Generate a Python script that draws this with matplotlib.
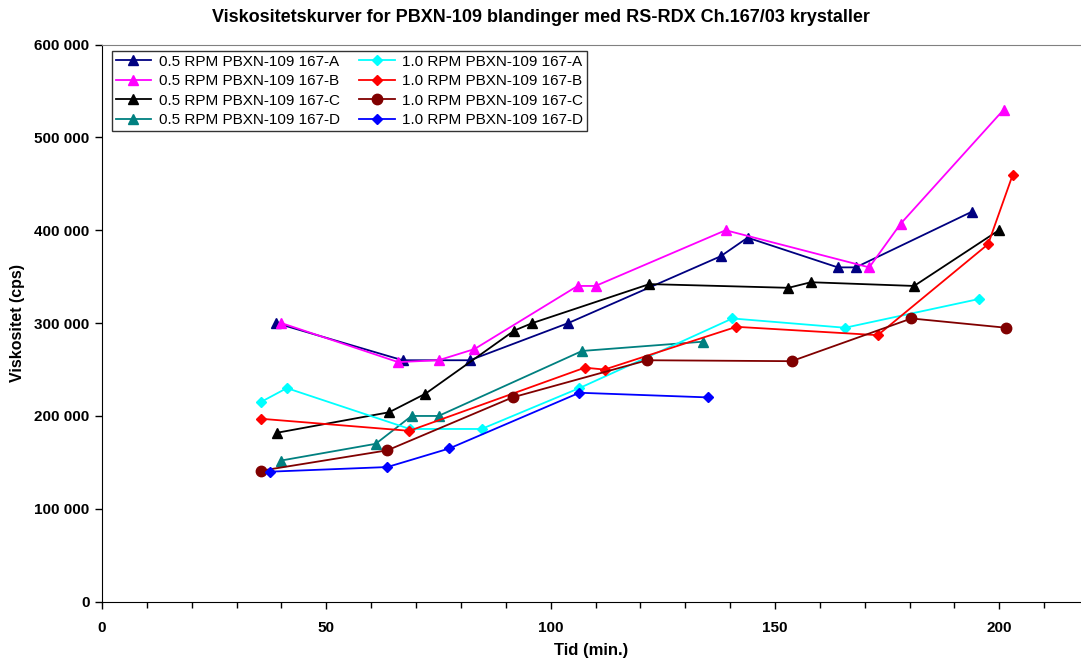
import matplotlib
matplotlib.use("Agg")
import matplotlib.pyplot as plt
from matplotlib.ticker import MultipleLocator, FuncFormatter

plt.rcParams['font.family'] = ['Liberation Sans', 'DejaVu Sans']

# Data (time in min, viscosity in cps)
a05_x = [38.8, 67.0, 82.0, 103.9, 137.9, 143.9, 164.0, 168.0, 193.9]
a05_y = [300000, 260000, 260000, 300000, 372000, 392000, 360000, 360000, 420000]
b05_x = [40.0, 66.0, 75.0, 83.0, 106.0, 110.0, 139.0, 171.0, 178.0, 201.0]
b05_y = [300000, 258000, 260000, 272000, 340000, 340000, 400000, 360000, 407000, 530000]
c05_x = [39.1, 64.0, 72.1, 91.9, 95.9, 122.0, 153.0, 158.0, 181.0, 199.9]
c05_y = [182000, 204000, 224000, 292000, 300000, 342000, 338000, 344000, 340000, 400000]
d05_x = [39.9, 61.0, 69.0, 75.0, 107.0, 134.0]
d05_y = [152000, 170000, 200000, 200000, 270000, 280000]

a10_x = [35.4, 41.2, 68.6, 84.6, 106.4, 140.5, 165.6, 195.5]
a10_y = [215000, 230000, 186000, 186000, 230000, 305000, 295000, 326000]
b10_x = [35.4, 68.5, 107.6, 112.0, 141.4, 172.9, 197.5, 203.0]
b10_y = [197000, 184000, 252000, 250000, 296000, 287000, 385000, 460000]
c10_x = [35.4, 63.6, 91.5, 121.5, 153.7, 180.4, 201.5]
c10_y = [141000, 163000, 220000, 260000, 259000, 305000, 295000]
d10_x = [37.4, 63.6, 77.4, 106.4, 135.0]
d10_y = [140000, 145000, 165000, 225000, 220000]

series = [
    ("0.5 RPM PBXN-109 167-A", a05_x, a05_y, "#000080", "^"),
    ("0.5 RPM PBXN-109 167-B", b05_x, b05_y, "#FF00FF", "^"),
    ("0.5 RPM PBXN-109 167-C", c05_x, c05_y, "#000000", "^"),
    ("0.5 RPM PBXN-109 167-D", d05_x, d05_y, "#008080", "^"),
    ("1.0 RPM PBXN-109 167-A", a10_x, a10_y, "#00FFFF", "D"),
    ("1.0 RPM PBXN-109 167-B", b10_x, b10_y, "#FF0000", "D"),
    ("1.0 RPM PBXN-109 167-C", c10_x, c10_y, "#800000", "o"),
    ("1.0 RPM PBXN-109 167-D", d10_x, d10_y, "#0000FF", "D"),
]

fig = plt.figure(figsize=(10.81, 6.64), dpi=100)
ax = fig.add_axes([102/1081, 1 - 601.7/664, 1 - 102/1081, (601.7 - 44.5)/664])

for label, xs, ys, col, mk in series:
    ms = 7 if mk == "^" else (5.5 if mk == "D" else 7.5)
    ax.plot(xs, ys, color=col, marker=mk, markersize=ms, linewidth=1.3,
            markerfacecolor=col, markeredgecolor=col, label=label, clip_on=False)

ax.set_xlim(0, 218.2)
ax.set_ylim(0, 600000)
ax.xaxis.set_major_locator(MultipleLocator(50))
ax.xaxis.set_minor_locator(MultipleLocator(10))
ax.yaxis.set_major_locator(MultipleLocator(100000))
ax.yaxis.set_major_formatter(FuncFormatter(lambda v, p: f"{int(v):,}".replace(",", " ")))

ax.tick_params(axis='both', which='major', direction='out', length=5, width=1,
               labelsize=11)
ax.tick_params(axis='x', which='major', pad=9)
ax.tick_params(axis='x', which='minor', direction='out', length=4, width=1)
ax.tick_params(axis='y', pad=4)
for lbl in ax.get_xticklabels() + ax.get_yticklabels():
    lbl.set_fontweight('bold')

ax.spines['left'].set_color('black')
ax.spines['bottom'].set_color('black')
ax.spines['top'].set_color('#808080')
ax.spines['right'].set_visible(False)

ax.set_xlabel("Tid (min.)", fontsize=12, fontweight='bold', labelpad=6)
ax.set_ylabel("Viskositet (cps)", fontsize=11.5, fontweight='bold', labelpad=7)
fig.suptitle("Viskositetskurver for PBXN-109 blandinger med RS-RDX Ch.167/03 krystaller",
             fontsize=13, fontweight='bold', x=0.5, y=0.987)

leg = ax.legend(loc='upper left', ncol=2, bbox_to_anchor=(10/979, 1 - 6.5/557),
                frameon=True, fancybox=False, fontsize=11, borderpad=0.25,
                handlelength=2.3, columnspacing=1.3, labelspacing=0.36,
                handletextpad=0.5, borderaxespad=0)
leg.get_frame().set_edgecolor('black')
leg.get_frame().set_linewidth(1.0)

fig.savefig("out.png", dpi=100)
